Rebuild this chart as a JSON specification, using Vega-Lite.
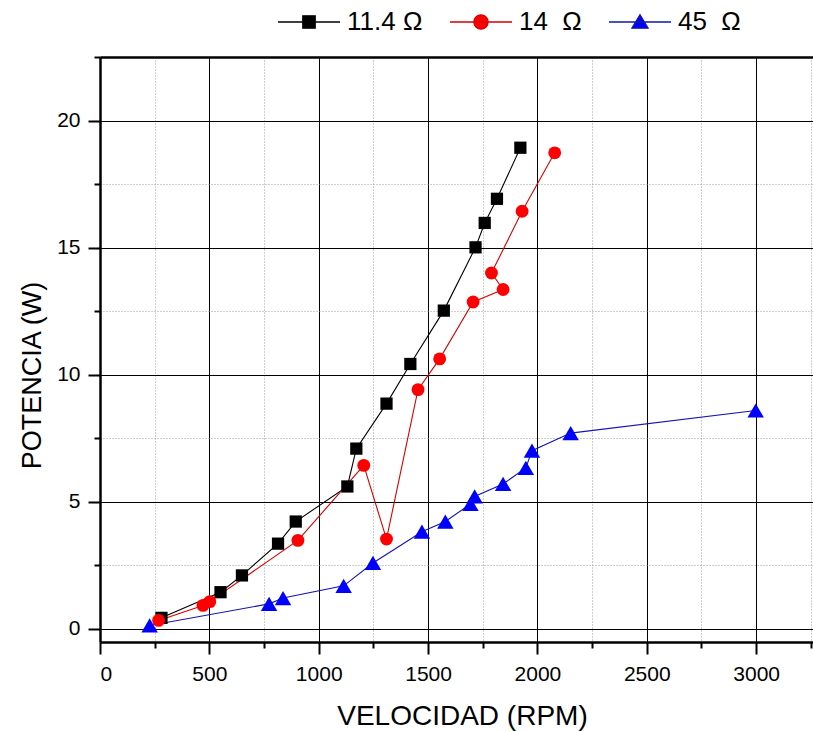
{
  "$schema": "https://vega.github.io/schema/vega-lite/v6.json",
  "width": 713,
  "height": 585,
  "autosize": {"type": "none"},
  "padding": {"left": 100, "top": 57, "right": 0, "bottom": 90},
  "background": "white",
  "config": {"font": "Liberation Sans", "view": {"stroke": null}},
  "data": {
    "values": [
      {"s": "11.4 Ω", "i": 1, "rpm": 281, "w": 0.43},
      {"s": "11.4 Ω", "i": 2, "rpm": 551, "w": 1.44},
      {"s": "11.4 Ω", "i": 3, "rpm": 649, "w": 2.10},
      {"s": "11.4 Ω", "i": 4, "rpm": 814, "w": 3.35},
      {"s": "11.4 Ω", "i": 5, "rpm": 895, "w": 4.22},
      {"s": "11.4 Ω", "i": 6, "rpm": 1131, "w": 5.60},
      {"s": "11.4 Ω", "i": 7, "rpm": 1172, "w": 7.09},
      {"s": "11.4 Ω", "i": 8, "rpm": 1310, "w": 8.86},
      {"s": "11.4 Ω", "i": 9, "rpm": 1419, "w": 10.42},
      {"s": "11.4 Ω", "i": 10, "rpm": 1572, "w": 12.52},
      {"s": "11.4 Ω", "i": 11, "rpm": 1717, "w": 15.01},
      {"s": "11.4 Ω", "i": 12, "rpm": 1759, "w": 15.97},
      {"s": "11.4 Ω", "i": 13, "rpm": 1815, "w": 16.92},
      {"s": "11.4 Ω", "i": 14, "rpm": 1922, "w": 18.93},
      {"s": "14\u00a0\u00a0Ω", "i": 1, "rpm": 268, "w": 0.33},
      {"s": "14\u00a0\u00a0Ω", "i": 2, "rpm": 471, "w": 0.92},
      {"s": "14\u00a0\u00a0Ω", "i": 3, "rpm": 502, "w": 1.07},
      {"s": "14\u00a0\u00a0Ω", "i": 4, "rpm": 905, "w": 3.48},
      {"s": "14\u00a0\u00a0Ω", "i": 5, "rpm": 1206, "w": 6.43},
      {"s": "14\u00a0\u00a0Ω", "i": 6, "rpm": 1310, "w": 3.53},
      {"s": "14\u00a0\u00a0Ω", "i": 7, "rpm": 1454, "w": 9.41},
      {"s": "14\u00a0\u00a0Ω", "i": 8, "rpm": 1553, "w": 10.62},
      {"s": "14\u00a0\u00a0Ω", "i": 9, "rpm": 1706, "w": 12.86},
      {"s": "14\u00a0\u00a0Ω", "i": 10, "rpm": 1843, "w": 13.35},
      {"s": "14\u00a0\u00a0Ω", "i": 11, "rpm": 1790, "w": 14.00},
      {"s": "14\u00a0\u00a0Ω", "i": 12, "rpm": 1930, "w": 16.43},
      {"s": "14\u00a0\u00a0Ω", "i": 13, "rpm": 2079, "w": 18.73},
      {"s": "45\u00a0\u00a0Ω", "i": 1, "rpm": 227, "w": 0.13},
      {"s": "45\u00a0\u00a0Ω", "i": 2, "rpm": 773, "w": 0.98},
      {"s": "45\u00a0\u00a0Ω", "i": 3, "rpm": 837, "w": 1.21},
      {"s": "45\u00a0\u00a0Ω", "i": 4, "rpm": 1114, "w": 1.69},
      {"s": "45\u00a0\u00a0Ω", "i": 5, "rpm": 1248, "w": 2.59},
      {"s": "45\u00a0\u00a0Ω", "i": 6, "rpm": 1472, "w": 3.82},
      {"s": "45\u00a0\u00a0Ω", "i": 7, "rpm": 1579, "w": 4.22},
      {"s": "45\u00a0\u00a0Ω", "i": 8, "rpm": 1694, "w": 4.91},
      {"s": "45\u00a0\u00a0Ω", "i": 9, "rpm": 1713, "w": 5.21},
      {"s": "45\u00a0\u00a0Ω", "i": 10, "rpm": 1843, "w": 5.70},
      {"s": "45\u00a0\u00a0Ω", "i": 11, "rpm": 1947, "w": 6.33},
      {"s": "45\u00a0\u00a0Ω", "i": 12, "rpm": 1975, "w": 7.01},
      {"s": "45\u00a0\u00a0Ω", "i": 13, "rpm": 2152, "w": 7.70},
      {"s": "45\u00a0\u00a0Ω", "i": 14, "rpm": 2998, "w": 8.59}
    ]
  },
  "encoding": {
    "y": {
      "field": "w",
      "type": "quantitative",
      "scale": {"domain": [-0.52, 22.5], "nice": false, "zero": false},
      "axis": {
        "values": [0, 2.5, 5, 7.5, 10, 12.5, 15, 17.5, 20, 22.5],
        "labelExpr": "datum.value % 5 === 0 ? datum.label : ''",
        "format": "d",
        "labelFontSize": 21,
        "labelColor": "black",
        "labelPadding": 8,
        "tickColor": "black",
        "tickWidth": 2,
        "tickSize": {"condition": {"test": "datum.value % 5 === 0", "value": 12}, "value": 6},
        "domainColor": "black",
        "domainWidth": 2.5,
        "grid": true,
        "gridColor": {"condition": {"test": "datum.value % 5 === 0", "value": "#000000"}, "value": "#9a9a9a"},
        "gridDash": {"condition": {"test": "datum.value % 5 === 0", "value": []}, "value": [1, 2]},
        "gridWidth": 1,
        "gridOpacity": 1,
        "title": "POTENCIA (W)",
        "titleFontSize": 27,
        "titleFontWeight": "normal",
        "titleColor": "black",
        "titleAngle": -90,
        "titleAlign": "center",
        "titleBaseline": "alphabetic",
        "titleX": -60,
        "titleY": 318
      }
    },
    "x": {
      "field": "rpm",
      "type": "quantitative",
      "scale": {"domain": [0, 3260], "nice": false, "zero": false}
    },
    "color": {
      "field": "s",
      "type": "nominal",
      "scale": {"domain": ["11.4 Ω", "14\u00a0\u00a0Ω", "45\u00a0\u00a0Ω"], "range": ["#000000", "#ff0000", "#0000ff"]}
    }
  },
  "layer": [
    {
      "transform": [{"filter": "datum.rpm < 0"}],
      "mark": {"type": "point", "filled": true, "opacity": 1, "strokeWidth": 1.3},
      "encoding": {
        "x": {"field": "rpm", "type": "quantitative", "axis": null},
        "shape": {
          "field": "s",
          "type": "nominal",
          "scale": {
            "domain": ["11.4 Ω", "14\u00a0\u00a0Ω", "45\u00a0\u00a0Ω"],
            "range": [
              "M-1,0H1M-0.2,-0.2H0.2V0.2H-0.2Z",
              "M-1,0H1M-0.23,0A0.23,0.23,0,1,0,0.23,0A0.23,0.23,0,1,0,-0.23,0Z",
              "M-1,0H1M0,-0.23L0.26,0.2L-0.26,0.2Z"
            ]
          },
          "legend": {
            "orient": "none",
            "direction": "horizontal",
            "legendX": 177,
            "legendY": -67,
            "title": null,
            "symbolSize": 3844,
            "symbolStrokeWidth": 1.3,
            "labelFontSize": 26,
            "labelColor": "black",
            "labelOffset": 6,
            "columnPadding": 24
          }
        },
        "stroke": {
          "field": "s",
          "type": "nominal",
          "scale": {"domain": ["11.4 Ω", "14\u00a0\u00a0Ω", "45\u00a0\u00a0Ω"], "range": ["#000000", "#d80000", "#1414b0"]},
          "legend": {
            "orient": "none",
            "direction": "horizontal",
            "legendX": 177,
            "legendY": -67,
            "title": null,
            "symbolSize": 3844,
            "symbolStrokeWidth": 1.3,
            "labelFontSize": 26,
            "labelColor": "black",
            "labelOffset": 6,
            "columnPadding": 24
          }
        },
        "color": {
          "field": "s",
          "type": "nominal",
          "legend": {
            "orient": "none",
            "direction": "horizontal",
            "legendX": 177,
            "legendY": -67,
            "title": null,
            "symbolSize": 3844,
            "symbolStrokeWidth": 1.3,
            "labelFontSize": 26,
            "labelColor": "black",
            "labelOffset": 6,
            "columnPadding": 24
          }
        }
      }
    },
    {
      "mark": {"type": "line", "strokeWidth": 1.1},
      "encoding": {
        "x": {
          "field": "rpm",
          "type": "quantitative",
          "axis": {
            "orient": "bottom",
            "values": [0, 250, 500, 750, 1000, 1250, 1500, 1750, 2000, 2250, 2500, 2750, 3000, 3250],
            "labelExpr": "datum.value % 500 === 0 ? datum.label : ''",
            "format": "d",
            "labelFontSize": 21,
            "labelColor": "black",
            "labelPadding": 9,
            "tickColor": "black",
            "tickWidth": 2,
            "tickSize": {"condition": {"test": "datum.value % 500 === 0", "value": 12}, "value": 6},
            "domainColor": "black",
            "domainWidth": 2.5,
            "grid": true,
            "gridColor": {"condition": {"test": "datum.value % 500 === 0", "value": "#000000"}, "value": "#9a9a9a"},
            "gridDash": {"condition": {"test": "datum.value % 500 === 0", "value": []}, "value": [1, 2]},
            "gridWidth": 1,
            "gridOpacity": 1,
            "title": "VELOCIDAD (RPM)",
            "titleFontSize": 28,
            "titleFontWeight": "normal",
            "titleColor": "black",
            "titleAlign": "center",
            "titleBaseline": "alphabetic",
            "titleX": 362,
            "titleY": 82
          }
        },
        "stroke": {"field": "s", "type": "nominal"},
        "order": {"field": "i", "type": "quantitative"}
      }
    },
    {
      "transform": [{"filter": {"field": "s", "equal": "11.4 Ω"}}],
      "mark": {"type": "point", "filled": true, "opacity": 1, "shape": "square", "size": 150},
      "encoding": {
        "x": {
          "field": "rpm",
          "type": "quantitative",
          "axis": {"orient": "top", "ticks": false, "labels": false, "grid": false, "domain": true, "domainColor": "black", "domainWidth": 2.5, "title": null}
        }
      }
    },
    {
      "transform": [{"filter": {"field": "s", "equal": "14\u00a0\u00a0Ω"}}],
      "mark": {"type": "point", "filled": true, "opacity": 1, "shape": "circle", "size": 165},
      "encoding": {
        "x": {"field": "rpm", "type": "quantitative", "axis": null}
      }
    },
    {
      "transform": [{"filter": {"field": "s", "equal": "45\u00a0\u00a0Ω"}}],
      "mark": {"type": "point", "filled": true, "opacity": 1, "shape": "triangle-up", "size": 270},
      "encoding": {
        "x": {"field": "rpm", "type": "quantitative", "axis": null}
      }
    }
  ],
  "resolve": {"axis": {"x": "independent"}}
}
